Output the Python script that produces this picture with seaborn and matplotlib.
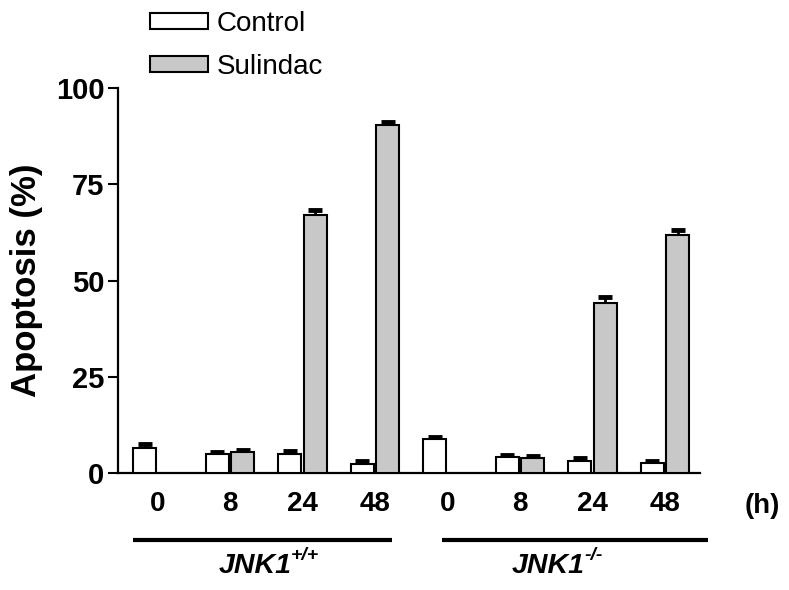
import numpy as np
import pandas as pd
import matplotlib
matplotlib.use('Agg')
import matplotlib.pyplot as plt
import matplotlib.transforms as mtransforms
import seaborn as sns

# values (apoptosis %, mean and SEM)
genotypes = ['JNK1+/+', 'JNK1-/-']
genotype_sup = ['+/+', '-/-']
times = ['0', '8', '24', '48']
control_mean = [6.5, 4.9, 5.0, 2.4, 8.8, 4.3, 3.2, 2.6]
control_sem = [1.0, 0.6, 0.8, 0.8, 0.6, 0.5, 0.8, 0.6]
sulindac_mean = [np.nan, 5.5, 67.0, 90.3, np.nan, 3.9, 44.1, 61.8]
sulindac_sem = [np.nan, 0.5, 1.4, 0.8, np.nan, 0.5, 1.5, 1.2]

conditions = [g + ' ' + t for g in genotypes for t in times]
df = pd.DataFrame({
    'condition': conditions * 2,
    'treatment': ['Control'] * 8 + ['Sulindac'] * 8,
    'value': control_mean + sulindac_mean,
    'sem': control_sem + sulindac_sem,
})

sns.set_style('ticks')
plt.rcParams['font.family'] = ['Liberation Sans', 'DejaVu Sans']
plt.rcParams.update({'text.color': 'black', 'axes.labelcolor': 'black',
                     'xtick.color': 'black', 'ytick.color': 'black',
                     'axes.edgecolor': 'black'})

fig = plt.figure(figsize=(7.89, 5.9), dpi=100)
ax = fig.add_axes([0.150, 0.198, 0.737, 0.653])

sns.barplot(data=df, x='condition', y='value', hue='treatment', order=conditions,
            palette={'Control': 'white', 'Sulindac': '#c8c8c8'},
            edgecolor='black', linewidth=1.5, width=0.7, gap=0.1,
            errorbar=None, ax=ax, zorder=3)

# error bars (upper half only, like the original)
sem_lookup = {(r.condition, r.treatment): r.sem for r in df.itertuples()}
for container, treat in zip(ax.containers, ['Control', 'Sulindac']):
    for bar in container:
        h = bar.get_height()
        if np.isnan(h):
            continue
        xc = bar.get_x() + bar.get_width() / 2
        cond = conditions[int(round(xc))]
        err = sem_lookup[(cond, treat)]
        ax.errorbar([xc], [h], yerr=[[0], [err]], fmt='none', ecolor='black',
                    elinewidth=2, capsize=0, zorder=2)
        ax.plot([xc], [h + err], marker='_', ms=10, mew=3.5, color='black', zorder=2)

ax.set_xlim(-0.54, 7.48)
ax.set_ylim(0, 100)
ax.set_yticks([0, 25, 50, 75, 100])
ax.set_xticks(range(8))
ax.set_xticklabels(times * 2, fontsize=20, fontweight='bold')
ax.tick_params(axis='x', length=0, pad=13)
ax.tick_params(axis='y', length=7, width=1.5, direction='out', labelsize=21, pad=3)
for lab in ax.get_yticklabels():
    lab.set_fontweight('bold')
ax.set_xlabel('')
ax.set_ylabel('Apoptosis (%)', fontsize=25, fontweight='bold', labelpad=9)
for side in ['top', 'right']:
    ax.spines[side].set_visible(False)
for side in ['left', 'bottom']:
    ax.spines[side].set_linewidth(1.6)

ax.text(1.107, -0.086, '(h)', transform=ax.transAxes, fontsize=20,
        fontweight='bold', ha='center', va='center')

# genotype brackets below the axis
trans = mtransforms.blended_transform_factory(ax.transData, ax.transAxes)
line_spans = [(-0.34, 3.24), (3.93, 7.59)]
label_x = [1.5, 5.55]
for (x0, x1), lx, name, sup in zip(line_spans, label_x, genotypes, genotype_sup):
    ax.plot([x0, x1], [-0.174, -0.174], transform=trans, color='black', lw=3,
            clip_on=False, solid_capstyle='butt')
    base = name.replace(sup, '')
    ax.annotate(base, xy=(lx, -0.242), xycoords=trans, xytext=(18, 0),
                textcoords='offset points', ha='right', va='center',
                fontsize=20.5, fontweight='bold', fontstyle='italic')
    ax.annotate(sup, xy=(lx, -0.242), xycoords=trans, xytext=(18, 8),
                textcoords='offset points', ha='left', va='center',
                fontsize=14, fontweight='bold', fontstyle='italic')

leg = ax.legend(loc='upper left', bbox_to_anchor=(0.176, 1.0), bbox_transform=fig.transFigure,
                frameon=False, fontsize=20, handlelength=2.1, handleheight=0.5,
                handletextpad=0.3, labelspacing=0.6, borderaxespad=0)
for h in leg.legend_handles:
    h.set_edgecolor('black')
    h.set_linewidth(1.5)

fig.savefig('out.png', dpi=100)
